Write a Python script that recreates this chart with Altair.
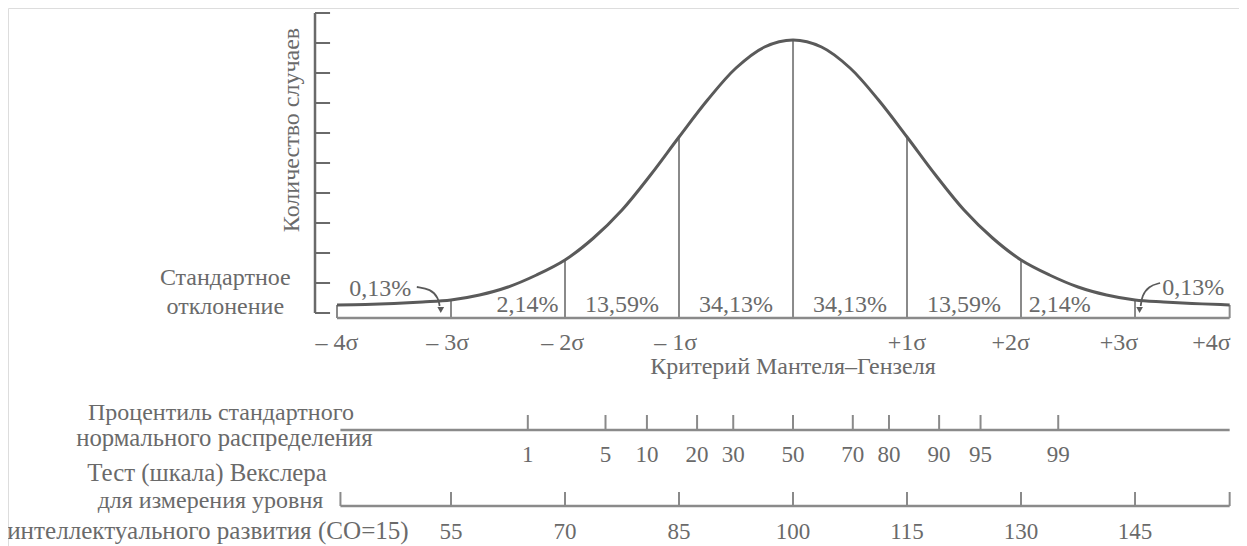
import altair as alt
import pandas as pd

# ------------------------------------------------------------------
# Values
# ------------------------------------------------------------------
# bell curve: position (sigma units) and height above the baseline
curve_z = [-4.0, -3.75, -3.5, -3.25, -3.0, -2.75, -2.5, -2.25, -2.0, -1.75, -1.5, -1.25,
           -1.0, -0.75, -0.5, -0.25, 0.0, 0.25, 0.5, 0.75, 1.0, 1.25, 1.5, 1.75,
           2.0, 2.25, 2.5, 2.75, 3.0, 3.25, 3.5, 3.75, 3.83]
curve_h = [13, 13.5, 14.5, 16, 18, 23, 31, 43, 58, 80, 108, 143,
           181, 218, 250, 271, 278, 271, 250, 218, 181, 143, 108, 80,
           58, 43, 31, 23, 18, 16, 14.5, 13.5, 13]

# vertical boundaries drawn under the curve (sigma units)
sigma_bounds = [-4.0, -3.0, -2.0, -1.0, 0.0, 1.0, 2.0, 3.0, 3.83]

# sigma axis labels
sigma_labels = ["– 4σ", "– 3σ", "– 2σ", "– 1σ", "+1σ", "+2σ", "+3σ", "+4σ"]
sigma_label_z = [-4.0, -3.03, -2.02, -1.03, 1.0, 1.91, 2.86, 3.67]

# share of cases in each band
share_labels = ["0,13%", "2,14%", "13,59%", "34,13%", "34,13%", "13,59%", "2,14%", "0,13%"]
share_label_z = [-3.62, -2.33, -1.5, -0.5, 0.5, 1.5, 2.34, 3.51]
share_label_h = [29, 13, 13, 13, 13, 13, 13, 30]

# count-axis ticks (unlabelled)
count_ticks = [5, 35, 65, 95, 125, 155, 185, 215, 245, 275, 305]

# percentile scale of the standard normal distribution
percentiles = [1, 5, 10, 20, 30, 50, 70, 80, 90, 95, 99]

# Wechsler IQ scale (SD = 15)
wechsler = [55, 70, 85, 100, 115, 130, 145]
wechsler_end_z = [-3.97, 3.83]
scale_span_z = [-3.97, 3.83]

# small arrows pointing to the 0.13 % tails
arrow_id = ["L", "L", "L", "L", "R", "R", "R", "R"]
arrow_z = [-3.30, -3.18, -3.11, -3.10, 3.22, 3.12, 3.06, 3.05]
arrow_h = [31, 29, 20, 12, 35, 32, 22, 12]
arrow_head_z = [-3.09, 3.04]
arrow_head_h = [8, 8]

# left-hand captions
left_caption_rows = ["Стандартное", "отклонение"]
bottom_caption_rows = ["Процентиль стандартного", "нормального распределения",
                       "Тест (шкала) Векслера", "для измерения уровня",
                       "интеллектуального развития (СО=15)"]

# ------------------------------------------------------------------
# Layout (rows in the same vertical units as the curve height)
# ------------------------------------------------------------------
ROW_SIGMA_LABELS = -25
ROW_X_TITLE = -49
ROW_PCT_LINE = -112
ROW_PCT_TICK = -97
ROW_PCT_LABELS = -137
ROW_WX_LINE = -188
ROW_WX_TICK = -174
ROW_WX_LABELS = -214
left_caption_h = [40, 11]
LEFT_CAPTION_Z = -4.98
bottom_caption_h = [-95, -121, -156, -183, -213]
bottom_caption_z = [-5.018, -4.987, -5.140, -5.110, -5.132]
bottom_caption_size = [24, 24.7, 24.9, 24, 25.1]
YAXIS_Z = -4.193
YAXIS_TICK_END_Z = -4.061
YTITLE_Z = -4.395
YTITLE_H = 188

FONT = "Liberation Serif"
TXT = "#6a6a6a"
LINE = "#8a8a8a"
CURVE = "#5a5a5a"

XS = alt.Scale(domain=[-6.886, 3.912], nice=False, zero=False)
YS = alt.Scale(domain=[-228, 310], nice=False, zero=False)


def X(f="z"):
    return alt.X(f"{f}:Q", scale=XS, axis=None)


def Y(f="h"):
    return alt.Y(f"{f}:Q", scale=YS, axis=None)


# ------------------------------------------------------------------
# Data frames
# ------------------------------------------------------------------
curve_df = pd.DataFrame({"z": curve_z, "h": curve_h})
h_at = dict(zip(curve_z, curve_h))
bounds_df = pd.DataFrame({"z": sigma_bounds, "h": [h_at[z] for z in sigma_bounds], "h0": 0})
base_df = pd.DataFrame({"z": [sigma_bounds[0]], "z2": [sigma_bounds[-1]], "h": [0]})
sig_lab_df = pd.DataFrame({"z": sigma_label_z, "t": sigma_labels, "h": ROW_SIGMA_LABELS})
share_df = pd.DataFrame({"z": share_label_z, "h": share_label_h, "t": share_labels})
ytick_df = pd.DataFrame({"z": YAXIS_Z, "z2": YAXIS_TICK_END_Z, "h": count_ticks})
yaxis_df = pd.DataFrame({"z": [YAXIS_Z], "h": [count_ticks[0]], "h2": [count_ticks[-1]]})
ytitle_df = pd.DataFrame({"z": [YTITLE_Z], "h": [YTITLE_H], "t": ["Количество случаев"]})
xtitle_df = pd.DataFrame({"z": [0.0], "h": [ROW_X_TITLE], "t": ["Критерий Мантеля–Гензеля"]})
arrow_df = pd.DataFrame({"id": arrow_id, "z": arrow_z, "h": arrow_h, "o": list(range(len(arrow_z)))})
head_df = pd.DataFrame({"z": arrow_head_z, "h": arrow_head_h})
lcap_df = pd.DataFrame({"z": LEFT_CAPTION_Z, "h": left_caption_h, "t": left_caption_rows})
bcap_df = pd.DataFrame({"z": bottom_caption_z, "h": bottom_caption_h, "t": bottom_caption_rows,
                        "s": bottom_caption_size})
pct_df = pd.DataFrame({"p": percentiles, "t": [str(p) for p in percentiles],
                       "h0": ROW_PCT_LINE, "h": ROW_PCT_TICK, "hl": ROW_PCT_LABELS})
wx_df = pd.DataFrame({"iq": wechsler, "t": [str(v) for v in wechsler],
                      "h0": ROW_WX_LINE, "h": ROW_WX_TICK, "hl": ROW_WX_LABELS})
wx_end_df = pd.DataFrame({"z": wechsler_end_z, "h0": ROW_WX_LINE, "h": ROW_WX_TICK})
lines_df = pd.DataFrame({"z": [scale_span_z[0]] * 2, "z2": [scale_span_z[1]] * 2,
                         "h": [ROW_PCT_LINE, ROW_WX_LINE]})

# ------------------------------------------------------------------
# Layers
# ------------------------------------------------------------------
def text_layer(df, size=24, **kw):
    return alt.Chart(df).mark_text(font=FONT, fontSize=size, color=TXT,
                                   baseline="middle", **kw).encode(x=X(), y=Y(), text="t:N")


curve = alt.Chart(curve_df).mark_line(color=CURVE, strokeWidth=3, interpolate="catmull-rom").encode(
    x=X(), y=Y())
bounds = alt.Chart(bounds_df).mark_rule(color=LINE, strokeWidth=2).encode(
    x=X(), y=Y("h0"), y2="h:Q")
base = alt.Chart(base_df).mark_rule(color=LINE, strokeWidth=2.5).encode(
    x=X(), x2="z2:Q", y=Y())
yaxis = alt.Chart(yaxis_df).mark_rule(color="#6a6a6a", strokeWidth=2.5).encode(
    x=X(), y=Y(), y2="h2:Q")
yticks = alt.Chart(ytick_df).mark_rule(color="#6a6a6a", strokeWidth=2).encode(
    x=X(), x2="z2:Q", y=Y())
ytitle = text_layer(ytitle_df, align="center", angle=270)
xtitle = text_layer(xtitle_df, align="center")
sig_labels = text_layer(sig_lab_df, align="center")
shares = text_layer(share_df, align="center")
arrows = alt.Chart(arrow_df).mark_line(color=CURVE, strokeWidth=1.8, interpolate="basis").encode(
    x=X(), y=Y(), detail="id:N", order="o:Q")
heads = alt.Chart(head_df).mark_point(shape="triangle-down", filled=True, color=CURVE,
                                      size=45, opacity=1).encode(x=X(), y=Y())
lcap = text_layer(lcap_df, align="center")
bcap = alt.Chart(bcap_df).mark_text(font=FONT, color=TXT, baseline="middle", align="center").encode(
    x=X(), y=Y(), text="t:N", size=alt.Size("s:Q", scale=None, legend=None))

scale_lines = alt.Chart(lines_df).mark_rule(color=LINE, strokeWidth=2.5).encode(
    x=X(), x2="z2:Q", y=Y())

pct_ticks = alt.Chart(pct_df).transform_calculate(
    z="quantileNormal(datum.p / 100)").mark_rule(color=LINE, strokeWidth=2).encode(
    x=X(), y=Y("h0"), y2="h:Q")
pct_labels = alt.Chart(pct_df).transform_calculate(
    z="quantileNormal(datum.p / 100)").mark_text(
    font=FONT, fontSize=23, color=TXT, baseline="middle", align="center").encode(
    x=X(), y=Y("hl"), text="t:N")

wx_ticks = alt.Chart(wx_df).transform_calculate(
    z="(datum.iq - 100) / 15").mark_rule(color=LINE, strokeWidth=2).encode(
    x=X(), y=Y("h0"), y2="h:Q")
wx_labels = alt.Chart(wx_df).transform_calculate(
    z="(datum.iq - 100) / 15").mark_text(
    font=FONT, fontSize=23, color=TXT, baseline="middle", align="center").encode(
    x=X(), y=Y("hl"), text="t:N")
wx_ends = alt.Chart(wx_end_df).mark_rule(color=LINE, strokeWidth=2).encode(
    x=X(), y=Y("h0"), y2="h:Q")

chart = alt.layer(
    bounds, base, curve, yaxis, yticks, ytitle, xtitle, sig_labels, shares, arrows, heads,
    lcap, bcap, scale_lines, pct_ticks, pct_labels, wx_ticks, wx_labels, wx_ends
).properties(
    width=1231, height=538, padding=0,
    autosize=alt.AutoSizeParams(type="none")
).configure_view(stroke=None).configure(background="white")

chart.save("out.html", embed_options={"renderer": "svg", "actions": False})
